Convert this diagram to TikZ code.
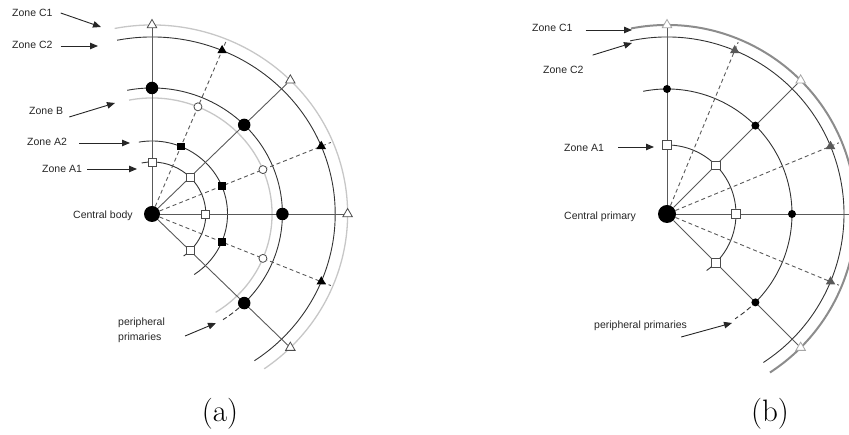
\documentclass[tikz,border=0pt]{standalone}
\usepackage{fontspec}
\newfontfamily\labfont{Liberation Sans}
\usetikzlibrary{arrows.meta,shapes.geometric,backgrounds}
\begin{document}
\begin{tikzpicture}[x=1pt,y=1pt,
  lbl/.style={font=\labfont\fontsize{10.5}{15}\selectfont, text=black!85, inner sep=0pt, anchor=west},
  zarrow/.style={draw=black!85, line width=0.9pt, -{Triangle[length=8pt,width=6.5pt]}},
  radial/.style={draw=black!65, line width=0.9pt},
  dashray/.style={draw=black!65, line width=0.9pt, dash pattern=on 4pt off 3pt},
  zarc/.style={draw=black!80, line width=0.9pt},
  garc/.style={draw=black!22, line width=1.3pt},
  fdot/.style={circle, fill=black, inner sep=0pt, minimum size=#1},
  odot/.style={circle, draw=black!70, fill=white, inner sep=0pt, minimum size=8pt, line width=0.8pt},
  osq/.style={rectangle, draw=black!70, fill=white, inner sep=0pt, minimum size=#1, line width=0.8pt},
  fsq/.style={rectangle, fill=black, inner sep=0pt, minimum size=7.5pt},
  otri/.style={regular polygon, regular polygon sides=3, draw=#1, fill=white, inner sep=0pt, minimum size=11pt, line width=0.8pt},
  ftri/.style={regular polygon, regular polygon sides=3, fill=#1, inner sep=0pt, minimum size=11pt},
  capt/.style={font=\fontsize{31}{36}\selectfont, inner sep=0pt}
]
\useasboundingbox (0,0) rectangle (849,435);

% ---------------- panel (a) ----------------
\begin{scope}[shift={(152,221)}, xscale=1.035]
  \node[fdot=16pt] (ca) at (0,0) {};
  \foreach \a/\s in {90/n,45/ne,0/e,-45/se}{
    \node[osq=8pt] (aA\s) at (\a:52) {};
    \node[fdot=12.5pt] (aD\s) at (\a:126) {};
    \node[otri=black!70] (aF\s) at (\a:189) {};
  }
  \foreach \a/\s in {67.5/nne,22.5/ene,-22.5/ese}{
    \node[fsq] (aB\s) at (\a:73) {};
    \node[odot] (aC\s) at (\a:116) {};
    \node[ftri=black] (aE\s) at (\a:177) {};
    \coordinate (aG\s) at (\a:187);
  }
  \begin{pgfonlayer}{background}
    \draw[garc] (101:116) arc[start angle=101,end angle=-58,radius=116];
    \draw[garc] (101:189) arc[start angle=101,end angle=-55,radius=189];
    \draw[zarc] (101:52) arc[start angle=101,end angle=-54,radius=52];
    \draw[zarc] (100:73) arc[start angle=100,end angle=-56,radius=73];
    \draw[zarc] (101:126) arc[start angle=101,end angle=-45,radius=126];
    \draw[zarc, dash pattern=on 5pt off 3pt] (-48:126) arc[start angle=-48,end angle=-57,radius=126];
    \draw[zarc] (101:177) arc[start angle=101,end angle=-56,radius=177];
    \foreach \s in {n,ne,e,se} \draw[radial] (ca) -- (aF\s);
    \foreach \s in {nne,ene,ese} \draw[dashray] (ca) -- (aG\s);
  \end{pgfonlayer}
\end{scope}

% labels (a)
\node[lbl] (laC1) at (12,422) {Zone C1};
\coordinate (taC1) at (101,408);
\draw[zarrow] ([xshift=8pt]laC1.east) -- (taC1);
\node[lbl] (laC2) at (12,390) {Zone C2};
\coordinate (taC2) at (98,389);
\draw[zarrow] ([xshift=8pt,yshift=-1pt]laC2.east) -- (taC2);
\node[lbl] (laB) at (29,324) {Zone B};
\coordinate (taB) at (115,332);
\draw[zarrow] ([xshift=6pt,yshift=-6pt]laB.east) -- (taB);
\node[lbl] (laA2) at (27,293) {Zone A2};
\coordinate (taA2) at (130,292);
\draw[zarrow] ([xshift=12pt,yshift=-1pt]laA2.east) -- (taA2);
\node[lbl] (laA1) at (42,266) {Zone A1};
\coordinate (taA1) at (137,266);
\draw[zarrow] ([xshift=5pt]laA1.east) -- (taA1);
\node[lbl] (lacb) at (73,219) {Central body};
\node[lbl, align=left] (lapp) at (118,104.5) {peripheral\\primaries};
\coordinate (tapp) at (216,112);
\draw[zarrow] ([xshift=20pt,yshift=-5.5pt]lapp.east) -- (tapp);
\node[capt] (capa) at (220,21) {(a)};

% ---------------- panel (b) ----------------
\begin{scope}[shift={(667,221)}]
  \node[fdot=18pt] (cb) at (0,0) {};
  \foreach \a/\s in {90/n,45/ne,0/e,-45/se}{
    \node[osq=8.5pt] (bA\s) at (\a:69) {};
    \node[fdot=8pt] (bD\s) at (\a:125) {};
    \node[otri=black!35] (bF\s) at (\a:189) {};
  }
  \foreach \a/\s in {67.5/nne,22.5/ene,-22.5/ese}{
    \node[ftri=black!65] (bE\s) at (\a:177) {};
    \coordinate (bG\s) at (\a:186);
  }
  \begin{pgfonlayer}{background}
    \draw[draw=black!45, line width=2pt] (101:189) arc[start angle=101,end angle=-57,radius=189];
    \draw[zarc] (93:69) arc[start angle=93,end angle=-55,radius=69];
    \draw[zarc] (101:125) arc[start angle=101,end angle=-45,radius=125];
    \draw[zarc, dash pattern=on 5pt off 3pt] (-48:125) arc[start angle=-48,end angle=-57,radius=125];
    \draw[zarc] (102:177) arc[start angle=102,end angle=-57,radius=177];
    \foreach \s in {n,ne,e,se} \draw[radial] (cb) -- (bF\s);
    \foreach \s in {nne,ene,ese} \draw[dashray] (cb) -- (bG\s);
  \end{pgfonlayer}
\end{scope}

% labels (b)
\node[lbl] (lbC1) at (532,407) {Zone C1};
\coordinate (tbC1) at (632,405);
\draw[zarrow] ([xshift=13pt,yshift=-2pt]lbC1.east) -- (tbC1);
\node[lbl] (lbC2) at (543,365) {Zone C2};
\coordinate (tbC2) at (632,392);
\draw[zarrow] ([xshift=9pt,yshift=11pt]lbC2.north east) -- (tbC2);
\node[lbl] (lbA1) at (564,287) {Zone A1};
\coordinate (tbA1) at (654,288);
\draw[zarrow] ([xshift=14pt,yshift=1pt]lbA1.east) -- (tbA1);
\node[lbl] (lbcp) at (564,218) {Central primary};
\node[lbl] (lbpp) at (594,109) {peripheral primaries};
\coordinate (tbpp) at (732,112);
\draw[zarrow] ([xshift=-6pt,yshift=-11pt]lbpp.east) -- (tbpp);
\node[capt] (capb) at (770,21) {(b)};
\end{tikzpicture}
\end{document}
